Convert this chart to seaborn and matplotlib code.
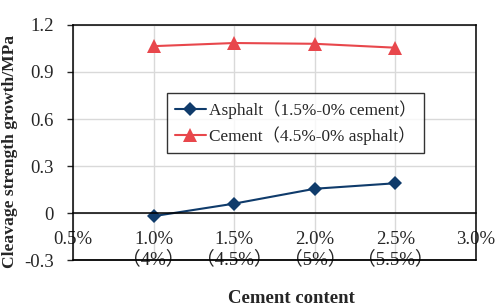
import pandas as pd
import seaborn as sns
import matplotlib.pyplot as plt

# Datos
asphalt_content = [1.0, 1.5, 2.0, 2.5]
asphalt_growth = [-0.02, 0.06, 0.155, 0.19]
cement_growth = [1.065, 1.085, 1.08, 1.055]

x_ticks = [0.5, 1.0, 1.5, 2.0, 2.5, 3.0]
x_tick_labels = ['0.5%', '1.0%\n（4%）', '1.5%\n（4.5%）', '2.0%\n（5%）', '2.5%\n（5.5%）', '3.0%']
y_ticks = [-0.3, 0, 0.3, 0.6, 0.9, 1.2]
y_tick_labels = ['-0.3', '0', '0.3', '0.6', '0.9', '1.2']

series_names = ['Asphalt（1.5%-0% cement）', 'Cement（4.5%-0% asphalt）']

df = pd.DataFrame({
    'content': asphalt_content * 2,
    'growth': asphalt_growth + cement_growth,
    'series': [series_names[0]] * 4 + [series_names[1]] * 4,
})

sns.set_style('white')
plt.rcParams['font.family'] = ['Liberation Serif', 'Noto Sans CJK SC']

fig = plt.figure(figsize=(4.98, 3.07), dpi=100)
ax = fig.add_axes([0.1466, 0.153, 0.8094, 0.7656])

palette = {series_names[0]: '#0f3b6b', series_names[1]: '#e8474c'}
markers = {series_names[0]: 'D', series_names[1]: '^'}
sns.lineplot(data=df, x='content', y='growth', hue='series', style='series',
             palette=palette, markers=markers, dashes=False, markersize=9,
             linewidth=1.5, markeredgewidth=0, legend=False, ax=ax)

# Tamaño de marcadores por serie
lines = ax.lines[:2]
lines[0].set_markersize(7.5)
lines[1].set_markersize(10)

ax.set_xlim(0.5, 3.0)
ax.set_ylim(-0.3, 1.2)

# Rejilla
ax.grid(True, color='#d9d9d9', linewidth=1)
ax.set_axisbelow(True)

# Eje X cruzando en 0
ax.spines['bottom'].set_position(('data', 0))
for side in ['left', 'right', 'top', 'bottom']:
    ax.spines[side].set_color('black')
    ax.spines[side].set_linewidth(1.1)
ax.axhline(-0.3, color='black', linewidth=1.3, clip_on=False)

ax.set_xticks(x_ticks)
ax.set_xticklabels(x_tick_labels, fontsize=13.5)
ax.tick_params(axis='x', length=0, pad=13)
ax.set_yticks(y_ticks)
ax.set_yticklabels(y_tick_labels, fontsize=13.5)
ax.tick_params(axis='y', length=4, direction='out', left=True, pad=10, width=1)

ax.set_ylabel('Cleavage strength growth/MPa', fontsize=12.6, fontweight='bold')
ax.yaxis.set_label_coords(-0.137, 0.464)
ax.set_xlabel('Cement content', fontsize=13.5, fontweight='bold')
ax.xaxis.set_label_coords(0.543, -0.127)

leg = ax.legend(lines, series_names, loc='upper left', bbox_to_anchor=(0.233, 0.711),
                borderaxespad=0, fontsize=12.4, frameon=True, fancybox=False,
                edgecolor='black', handlelength=1.8, handletextpad=0.2,
                labelspacing=0.4, borderpad=0.45)
leg.get_frame().set_linewidth(1.0)

plt.savefig('out.png', dpi=100)
